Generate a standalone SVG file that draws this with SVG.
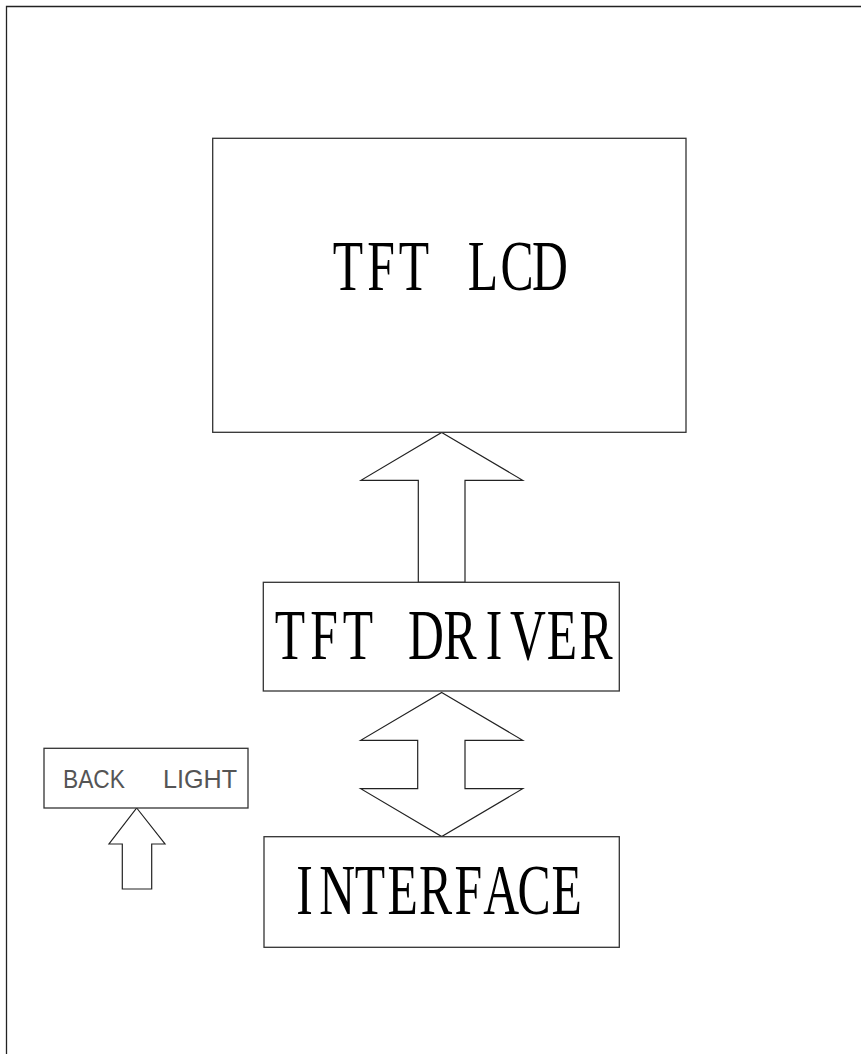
<svg xmlns="http://www.w3.org/2000/svg" width="861" height="1054" viewBox="0 0 861 1054">
<style>
.box{fill:#fff;stroke:#333;stroke-width:1.3}
.arr{fill:#fff;stroke:#222;stroke-width:1.2;stroke-linejoin:miter}
.big{font-family:"Liberation Serif","DejaVu Serif",serif;font-size:71px;fill:#000;text-anchor:middle}
.small{font-family:"Liberation Sans","DejaVu Sans",sans-serif;font-size:26px;fill:#555}
</style>
<rect width="861" height="1054" fill="#fff"/>
<g id="frame"><path d="M6.5,1054 V6.5 H861" fill="none" stroke="#222" stroke-width="1.3"/></g>
<g id="connectors">
<polygon class="arr" points="441.7,432.5 522.7,480.3 465,480.3 465,582.3 418.3,582.3 418.3,480.3 361,480.3"/>
<polygon class="arr" points="441.7,692.5 522.7,740.3 465,740.3 465,788.7 522.7,788.7 441.7,836.5 360.7,788.7 417.7,788.7 417.7,740.3 360.7,740.3"/>
<polygon class="arr" points="136.7,808 165,844 151.7,844 151.7,889 122.3,889 122.3,844 109,844"/>
</g>
<g id="tft-lcd">
<rect class="box" x="212.7" y="138.3" width="473.3" height="294"/>
<text class="big" transform="scale(0.7,1)" x="497.1 544.3 591.4 640.7 690 738.6 785.7" y="290">TFT LCD</text>
</g>
<g id="tft-driver">
<rect class="box" x="263.3" y="582.3" width="356" height="108.7"/>
<text class="big" transform="scale(0.7,1)" x="414.3 462.9 511.4 560 608.6 657.1 705.7 754.3 802.9 851.4" y="659">TFT DRIVER</text>
</g>
<g id="interface">
<rect class="box" x="264" y="836.7" width="355.3" height="110.6"/>
<text class="big" transform="scale(0.7,1)" x="434.9 481.7 528.6 575.4 622.3 669.1 716 762.9 809.7" y="914">INTERFACE</text>
</g>
<g id="back-light">
<rect class="box" x="44" y="748.3" width="204" height="59.7"/>
<text class="small" x="63" y="788" textLength="62" lengthAdjust="spacingAndGlyphs">BACK</text>
<text class="small" x="163" y="788" textLength="74" lengthAdjust="spacingAndGlyphs">LIGHT</text>
</g>
</svg>
